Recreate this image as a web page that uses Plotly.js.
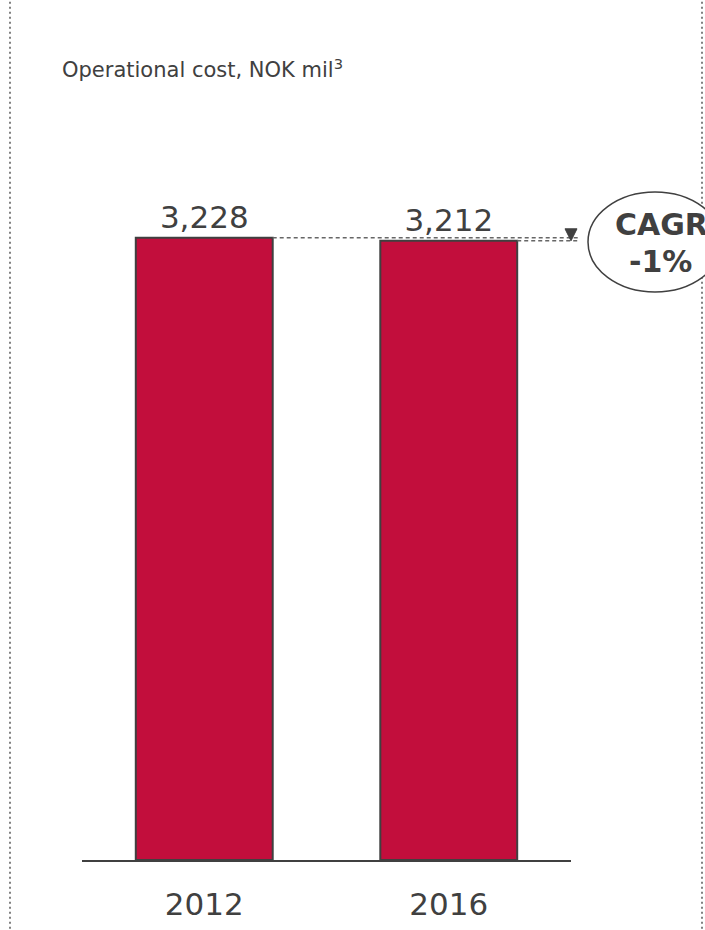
<!DOCTYPE html>
<html>
<head>
<meta charset="utf-8">
<script src="https://cdn.plot.ly/plotly-3.0.1.min.js"></script>
<style>html,body{margin:0;padding:0;background:#fff;}#chart{width:705px;height:930px;}</style>
</head>
<body>
<div id="chart"></div>
<script>
// ---- data ----
const years = ['2012', '2016'];
const costs = [3228, 3212];
const cagrLabel = ['CAGR', '-1%'];
const chartTitle = 'Operational cost, NOK mil<sup>3</sup>';

// ---- style ----
const FONT = 'DejaVu Sans, Verdana, sans-serif';
const TXT = '#404040';
const BAR = '#C20E3C';
const YMAX = 3600;
const BARW = 0.56;

const xRange = [-0.5, years.length - 0.5];
const toPaperX = v => (v - xRange[0]) / (xRange[1] - xRange[0]);
const toPaperY = v => v / YMAX;

const trace = {
  type: 'bar',
  x: years,
  y: costs,
  width: BARW,
  marker: {color: BAR, line: {color: TXT, width: 2}},
  text: costs.map(v => v.toLocaleString('en-US')),
  textposition: 'outside',
  textfont: {family: FONT, size: 31, color: TXT},
  cliponaxis: false,
  hoverinfo: 'skip'
};

const lineEnd = 1.014;
const shapes = [
  {type: 'line', xref: 'paper', yref: 'paper', x0: -72/489, x1: -72/489, y0: -0.2, y1: 1.4,
   line: {color: '#808080', width: 2, dash: '2px,3px'}},
  {type: 'line', xref: 'paper', yref: 'paper', x0: 620/489, x1: 620/489, y0: -0.2, y1: 1.4,
   line: {color: '#808080', width: 2, dash: '2px,3px'}},
  {type: 'line', xref: 'paper', yref: 'paper',
   x0: toPaperX(0 + BARW / 2), x1: lineEnd, y0: toPaperY(costs[0]), y1: toPaperY(costs[0]),
   line: {color: '#666', width: 1.5, dash: '4px,3px'}},
  {type: 'line', xref: 'paper', yref: 'paper',
   x0: toPaperX(1 + BARW / 2), x1: lineEnd, y0: toPaperY(costs[1]), y1: toPaperY(costs[1]),
   line: {color: '#666', width: 1.5, dash: '4px,3px'}},
  {type: 'path', xref: 'paper', yref: 'paper',
   path: `M ${1 - 6/489} ${toPaperY(costs[1]) + 12/694} L ${1 + 6/489} ${toPaperY(costs[1]) + 12/694} L 1 ${toPaperY(costs[1])} Z`,
   fillcolor: TXT, line: {color: TXT, width: 1}},
  {type: 'circle', xref: 'paper', yref: 'paper',
   x0: (588 - 82) / 489, x1: (722 - 82) / 489, y0: (860 - 292) / 694, y1: (860 - 192) / 694,
   fillcolor: '#ffffff', line: {color: TXT, width: 1.5}}
];

const annotations = [
  {xref: 'paper', yref: 'paper', x: (613 - 82) / 489, y: (860 - 243) / 694,
   text: '<b>' + cagrLabel[0] + '</b>', showarrow: false,
   font: {family: FONT, size: 30, color: TXT}, xanchor: 'left', yanchor: 'middle', yshift: 18},
  {xref: 'paper', yref: 'paper', x: (660 - 82) / 489, y: (860 - 243) / 694,
   text: '<b>' + cagrLabel[1] + '</b>', showarrow: false,
   font: {family: FONT, size: 30, color: TXT}, xanchor: 'center', yanchor: 'middle', yshift: -19}
];

const layout = {
  width: 705, height: 930,
  margin: {l: 82, r: 134, t: 166, b: 70},
  paper_bgcolor: '#fff', plot_bgcolor: '#fff',
  showlegend: false,
  title: {text: chartTitle, font: {family: FONT, size: 21, color: TXT},
          x: 62/705, xref: 'container', xanchor: 'left', y: 1 - 70/930, yref: 'container', yanchor: 'middle'},
  xaxis: {type: 'category', range: xRange, showline: true, linecolor: TXT, linewidth: 2,
          ticks: '', showgrid: false, zeroline: false,
          tickfont: {family: FONT, size: 31, color: TXT}, ticklabelstandoff: 16},
  yaxis: {range: [0, YMAX], visible: false, showgrid: false, zeroline: false},
  shapes: shapes,
  annotations: annotations
};

Plotly.newPlot('chart', [trace], layout, {displayModeBar: false, staticPlot: true});
</script>
</body>
</html>
